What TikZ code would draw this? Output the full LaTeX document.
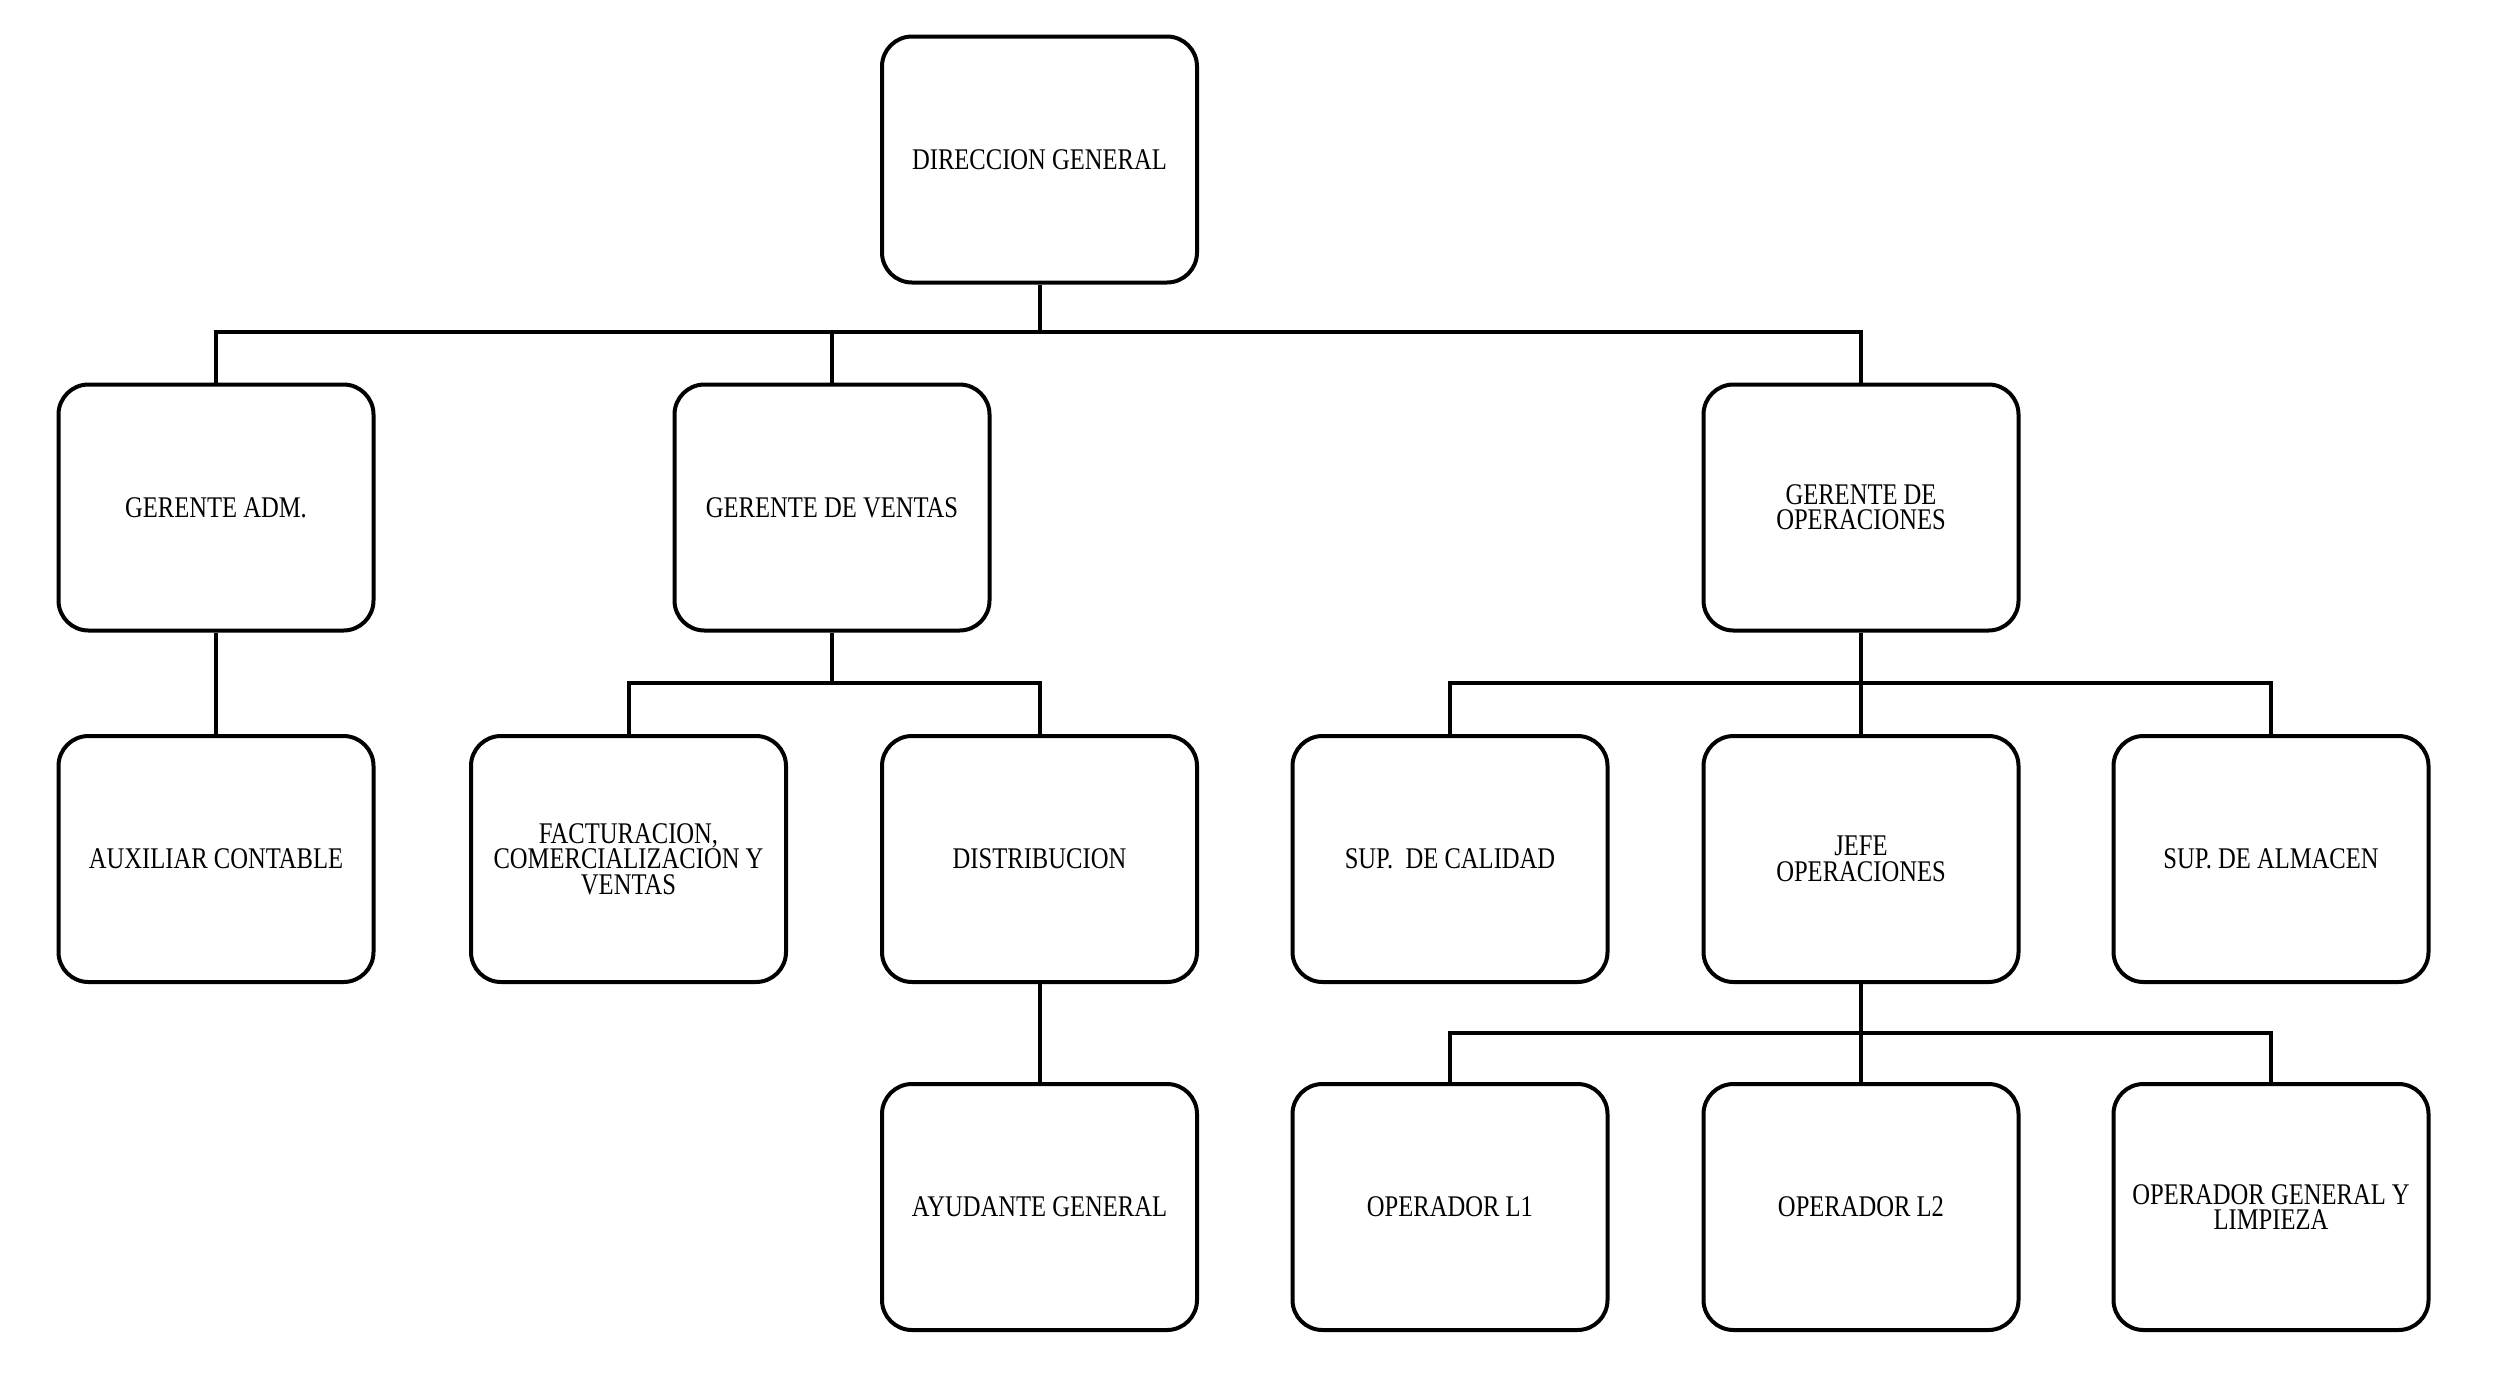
\documentclass[tikz,border=0pt]{standalone}
\usepackage{fontspec}
\setmainfont[FakeStretch=0.82]{Liberation Serif}
\begin{document}
\begin{tikzpicture}[x=0.5pt,y=-0.5pt,
  box/.style={draw=black, line width=2pt, rounded corners=15pt, fill=white,
    minimum width=157.5pt, minimum height=123pt, align=center, inner sep=2pt,
    font=\fontsize{15}{12.7}\selectfont},
  link/.style={draw=black, line width=2pt}]
\useasboundingbox (0,0) rectangle (2494,1382);
% row 1
\node[box] (dg) at (1039.5,159.5) {DIRECCION GENERAL};
% row 2
\node[box] (ga) at (216,507.5) {GERENTE ADM.};
\node[box] (gv) at (832,507.5) {GERENTE DE VENTAS};
\node[box] (go) at (1861,507.5) {GERENTE DE\\OPERACIONES};
% row 3
\node[box] (aux) at (216,859) {AUXILIAR CONTABLE};
\node[box] (fac) at (628.5,859) {FACTURACION,\\COMERCIALIZACION Y\\VENTAS};
\node[box] (dis) at (1039.5,859) {DISTRIBUCION};
\node[box] (sc) at (1450,859) {SUP.\ \ DE CALIDAD};
\node[box] (jf) at (1861,859) {JEFE\\OPERACIONES};
\node[box] (sa) at (2271,859) {SUP. DE ALMACEN};
% row 4
\node[box] (ayu) at (1039.5,1207) {AYUDANTE GENERAL};
\node[box] (op1) at (1450,1207) {OPERADOR L1};
\node[box] (op2) at (1861,1207) {OPERADOR L2};
\node[box] (opg) at (2271,1207) {OPERADOR GENERAL Y\\LIMPIEZA};
% buses
\coordinate (b1) at (1039.5,332);
\coordinate (b2) at (832,683);
\coordinate (b3) at (1861,683);
\coordinate (b4) at (1861,1033);
% connectors
\draw[link] (dg.south) -- (b1);
\draw[link] (ga.north) |- (b1) -| (go.north);
\draw[link] (gv.north) -- (gv.north |- b1);
\draw[link] (ga.south) -- (aux.north);
\draw[link] (gv.south) -- (b2);
\draw[link] (fac.north) |- (b2) -| (dis.north);
\draw[link] (dis.south) -- (ayu.north);
\draw[link] (go.south) -- (jf.north);
\draw[link] (sc.north) |- (b3) -| (sa.north);
\draw[link] (jf.south) -- (op2.north);
\draw[link] (op1.north) |- (b4) -| (opg.north);
\end{tikzpicture}
\end{document}
